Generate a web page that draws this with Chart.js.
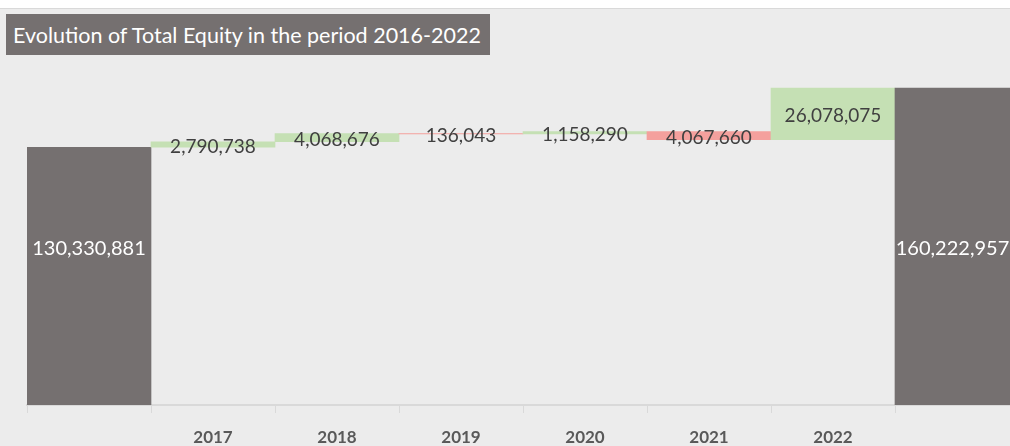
<!DOCTYPE html>
<html>
<head>
<meta charset="utf-8">
<script src="https://cdn.jsdelivr.net/npm/chart.js@4"></script>
<style>
    html, body { margin: 0; padding: 0; background: #ececec; overflow: hidden; }
    #top-strip { position: absolute; left: 0; top: 0; width: 1010px; height: 8px; background: #ffffff; border-bottom: 1px solid #d9d9d9; }
    #chart-box { position: absolute; left: 0; top: 0; width: 1030px; height: 446px; }
    #chart-title {
        position: absolute; left: 6px; top: 14px; width: 477px; height: 41px; padding-left: 7px;
        background: #757070; color: #ffffff; font-family: Lato, sans-serif; font-size: 21.5px; line-height: 42px;
        white-space: nowrap; overflow: hidden;
    }
</style>
</head>
<body>
<div id="top-strip"></div>
<div id="chart-box"><canvas id="equity-chart"></canvas></div>
<div id="chart-title">Evolution of Total Equity in the period 2016-2022</div>
<script>
// Waterfall values
const tickLabels = ['', '2017', '2018', '2019', '2020', '2021', '2022', ''];
const openingEquity = 130330881;
const yearlyChanges = [2790738, 4068676, -136043, 1158290, -4067660, 26078075];
const closingEquity = 160222957;

const totalColor = '#757070';
const increaseColor = '#c5e0b4';
const decreaseColor = '#f4a09d';

document.addEventListener('DOMContentLoaded', function () {
    const ctx = document.getElementById('equity-chart').getContext('2d');

    // build floating bars [from, to]
    const floatingBars = [[0, openingEquity]];
    const barColors = [totalColor];
    const labelValues = [openingEquity];
    let running = openingEquity;
    yearlyChanges.forEach(change => {
        floatingBars.push([running, running + change]);
        barColors.push(change >= 0 ? increaseColor : decreaseColor);
        labelValues.push(Math.abs(change));
        running += change;
    });
    floatingBars.push([0, closingEquity]);
    barColors.push(totalColor);
    labelValues.push(closingEquity);

    const visibleWidth = 1010;

    const valueLabels = {
        id: 'valueLabels',
        afterDatasetsDraw(chart) {
            const meta = chart.getDatasetMeta(0);
            const bars = meta.data;
            const c = chart.ctx;
            const first = bars[0];
            const last = bars[bars.length - 1];
            // both total labels sit at the same height
            const totalY = (first.base + Math.min(first.y, last.y)) / 2 + 2;
            c.save();
            c.textAlign = 'center';
            c.textBaseline = 'middle';
            bars.forEach((bar, i) => {
                const isTotal = i === 0 || i === bars.length - 1;
                const left = bar.x - bar.width / 2;
                const right = Math.min(bar.x + bar.width / 2, visibleWidth);
                const x = (left + right) / 2;
                const y = isTotal ? totalY : (bar.y + bar.base) / 2 + 2;
                c.fillStyle = isTotal ? '#ffffff' : '#404040';
                c.font = (isTotal ? '20px' : '19px') + ' Lato, sans-serif';
                c.fillText(labelValues[i].toLocaleString('en-US'), x, y);
            });
            c.restore();
        }
    };

    new Chart(ctx, {
        type: 'bar',
        data: {
            labels: tickLabels,
            datasets: [
                {
                    data: floatingBars,
                    backgroundColor: barColors,
                    borderWidth: 0,
                    barPercentage: 1,
                    categoryPercentage: 1
                }
            ]
        },
        options: {
            responsive: true,
            maintainAspectRatio: false,
            animation: false,
            layout: {
                padding: { left: 27, right: 11, top: 49, bottom: 0 }
            },
            plugins: {
                legend: { display: false },
                tooltip: { enabled: false }
            },
            scales: {
                x: {
                    grid: {
                        offset: true,
                        drawOnChartArea: false,
                        color: '#d9d9d9',
                        tickLength: 8
                    },
                    border: { color: '#d9d9d9', width: 2 },
                    ticks: {
                        padding: 14,
                        color: '#595959',
                        font: { family: 'Lato', size: 17, weight: 'bold' }
                    },
                    afterFit: function (scale) {
                        scale.height = 41;
                    }
                },
                y: {
                    display: false,
                    min: 0,
                    max: 180000000
                }
            }
        },
        plugins: [valueLabels]
    });
});
</script>
</body>
</html>
